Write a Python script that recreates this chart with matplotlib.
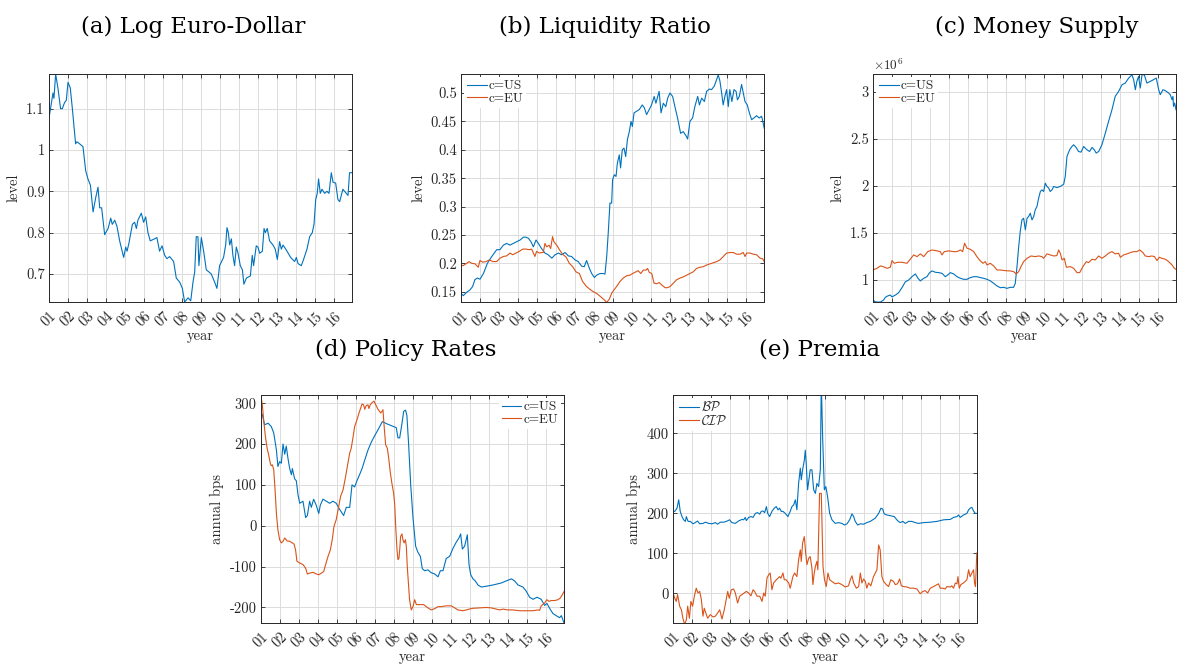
import matplotlib
matplotlib.use('Agg')
import matplotlib.pyplot as plt

plt.rcParams['mathtext.fontset'] = 'cm'
plt.rcParams['axes.unicode_minus'] = False

BLUE = '#0072BD'
ORANGE = '#D95319'
TICK_FONT = 'cmr10'
TITLE_FONT = 'DejaVu Serif'
FS = 10.5

# x values are years since Jan 2001
year_labels = ['%02d' % k for k in range(1, 17)]

# ---------------------------------------------------------------
# (a) Log Euro-Dollar
# ---------------------------------------------------------------
fx_t = [0.00, 0.21, 0.26, 0.35, 0.47, 0.61, 0.70, 0.82, 0.91, 1.00,
        1.12, 1.23, 1.40, 1.47, 1.61, 1.79, 1.93, 2.05, 2.18, 2.32,
        2.46, 2.58, 2.67, 2.77, 2.93, 3.11, 3.25, 3.33, 3.46, 3.58,
        3.72, 3.93, 4.04, 4.11, 4.21, 4.39, 4.51, 4.60, 4.68, 4.86,
        4.98, 5.09, 5.21, 5.33, 5.56, 5.68, 5.82, 5.95, 6.09, 6.21,
        6.35, 6.56, 6.70, 6.88, 7.02, 7.14, 7.32, 7.46, 7.58, 7.67,
        7.75, 7.84, 7.89, 8.02, 8.14, 8.28, 8.54, 8.72, 8.84, 8.98,
        9.19, 9.30, 9.37, 9.44, 9.51, 9.60, 9.68, 9.77, 9.86, 9.95,
        10.07, 10.18, 10.26, 10.39, 10.60, 10.70, 10.77, 10.91, 11.00, 11.09,
        11.23, 11.32, 11.39, 11.49, 11.61, 11.79, 11.91, 12.02, 12.14, 12.23,
        12.32, 12.53, 12.72, 12.93, 13.02, 13.11, 13.28, 13.40, 13.58, 13.72,
        13.86, 13.95, 14.04, 14.12, 14.19, 14.28, 14.37, 14.51, 14.63, 14.74,
        14.86, 14.95, 15.09, 15.21, 15.30, 15.47, 15.65, 15.74, 15.82, 15.95]
fx_level = [1.077, 1.138, 1.125, 1.184, 1.15, 1.10, 1.10, 1.115, 1.12, 1.164,
            1.15, 1.10, 1.015, 1.02, 1.015, 1.008, 0.95, 0.93, 0.915, 0.85,
            0.885, 0.91, 0.86, 0.86, 0.795, 0.81, 0.835, 0.82, 0.83, 0.815,
            0.78, 0.74, 0.765, 0.755, 0.775, 0.82, 0.825, 0.81, 0.83, 0.847,
            0.825, 0.838, 0.80, 0.78, 0.785, 0.788, 0.755, 0.768, 0.745, 0.737,
            0.742, 0.73, 0.69, 0.68, 0.665, 0.632, 0.642, 0.635, 0.68, 0.705,
            0.79, 0.79, 0.72, 0.788, 0.755, 0.71, 0.70, 0.68, 0.665, 0.72,
            0.74, 0.77, 0.812, 0.80, 0.77, 0.785, 0.745, 0.72, 0.765, 0.75,
            0.72, 0.71, 0.675, 0.69, 0.695, 0.745, 0.72, 0.768, 0.765, 0.75,
            0.755, 0.81, 0.80, 0.81, 0.78, 0.77, 0.76, 0.735, 0.778, 0.76,
            0.77, 0.755, 0.74, 0.73, 0.74, 0.725, 0.72, 0.735, 0.76, 0.79,
            0.80, 0.82, 0.88, 0.895, 0.93, 0.895, 0.905, 0.895, 0.90, 0.895,
            0.945, 0.922, 0.92, 0.88, 0.875, 0.905, 0.895, 0.89, 0.945, 0.945]

# ---------------------------------------------------------------
# (b) Liquidity Ratio
# ---------------------------------------------------------------
liq_us_t = [0.00, 0.12, 0.30, 0.47, 0.61, 0.73, 0.86, 1.00, 1.18, 1.39,
            1.62, 1.88, 2.05, 2.23, 2.40, 2.58, 2.75, 2.93, 3.11, 3.28,
            3.42, 3.55, 3.68, 3.81, 3.95, 4.07, 4.24, 4.42, 4.59, 4.78,
            4.95, 5.13, 5.30, 5.48, 5.65, 5.82, 6.00, 6.17, 6.35, 6.49,
            6.61, 6.76, 6.88, 7.02, 7.14, 7.32, 7.49, 7.58, 7.67, 7.75,
            7.84, 7.93, 7.98, 8.07, 8.16, 8.23, 8.33, 8.40, 8.49, 8.58,
            8.67, 8.76, 8.86, 8.95, 9.02, 9.11, 9.25, 9.39, 9.54, 9.65,
            9.77, 9.91, 10.03, 10.17, 10.26, 10.43, 10.53, 10.65, 10.78, 10.88,
            11.00, 11.14, 11.26, 11.40, 11.56, 11.70, 11.84, 11.93, 12.05, 12.19,
            12.31, 12.46, 12.55, 12.67, 12.81, 12.93, 13.07, 13.19, 13.33, 13.46,
            13.54, 13.63, 13.72, 13.80, 13.89, 13.98, 14.07, 14.15, 14.26, 14.37,
            14.48, 14.55, 14.65, 14.77, 14.86, 14.95, 15.07, 15.18, 15.30, 15.42,
            15.56, 15.70, 15.82, 15.87, 15.96]
liq_us = [0.147, 0.143, 0.149, 0.153, 0.159, 0.171, 0.174, 0.172, 0.182, 0.200,
          0.212, 0.224, 0.224, 0.232, 0.235, 0.232, 0.235, 0.238, 0.241, 0.246,
          0.246, 0.244, 0.238, 0.229, 0.241, 0.235, 0.226, 0.218, 0.215, 0.209,
          0.215, 0.218, 0.215, 0.219, 0.213, 0.212, 0.206, 0.203, 0.195, 0.194,
          0.205, 0.191, 0.182, 0.175, 0.179, 0.182, 0.182, 0.181, 0.212, 0.253,
          0.306, 0.306, 0.347, 0.356, 0.353, 0.376, 0.391, 0.368, 0.400, 0.403,
          0.388, 0.418, 0.432, 0.450, 0.441, 0.465, 0.468, 0.471, 0.479, 0.474,
          0.462, 0.471, 0.479, 0.494, 0.482, 0.503, 0.465, 0.482, 0.476, 0.491,
          0.500, 0.494, 0.476, 0.456, 0.429, 0.432, 0.425, 0.419, 0.450, 0.456,
          0.476, 0.494, 0.479, 0.491, 0.485, 0.503, 0.507, 0.506, 0.512, 0.524,
          0.532, 0.521, 0.500, 0.479, 0.494, 0.506, 0.476, 0.506, 0.485, 0.506,
          0.503, 0.488, 0.494, 0.515, 0.500, 0.485, 0.479, 0.465, 0.453, 0.456,
          0.460, 0.456, 0.459, 0.453, 0.438]
liq_eu_t = [0.00, 0.12, 0.30, 0.42, 0.56, 0.74, 0.91, 1.00, 1.14, 1.32,
            1.49, 1.67, 1.88, 2.05, 2.23, 2.40, 2.58, 2.72, 2.89, 3.07,
            3.25, 3.42, 3.60, 3.72, 3.89, 3.98, 4.12, 4.25, 4.33, 4.42,
            4.51, 4.63, 4.72, 4.82, 4.89, 5.04, 5.18, 5.35, 5.53, 5.70,
            5.88, 6.05, 6.23, 6.40, 6.58, 6.79, 6.96, 7.14, 7.32, 7.53,
            7.67, 7.81, 7.93, 8.05, 8.19, 8.37, 8.54, 8.72, 8.89, 9.04,
            9.21, 9.33, 9.46, 9.60, 9.74, 9.82, 9.91, 10.04, 10.16, 10.30,
            10.44, 10.56, 10.74, 10.86, 11.00, 11.18, 11.35, 11.53, 11.70, 11.88,
            12.05, 12.23, 12.40, 12.58, 12.75, 12.93, 13.11, 13.28, 13.46, 13.63,
            13.81, 13.98, 14.16, 14.33, 14.51, 14.68, 14.86, 14.95, 15.04, 15.21,
            15.39, 15.56, 15.74, 15.88, 15.96]
liq_eu = [0.196, 0.196, 0.200, 0.203, 0.200, 0.199, 0.193, 0.205, 0.202, 0.203,
          0.206, 0.203, 0.203, 0.209, 0.212, 0.213, 0.218, 0.215, 0.218, 0.221,
          0.225, 0.225, 0.224, 0.225, 0.212, 0.221, 0.218, 0.219, 0.219, 0.235,
          0.229, 0.232, 0.226, 0.247, 0.238, 0.232, 0.224, 0.216, 0.211, 0.200,
          0.194, 0.185, 0.182, 0.168, 0.160, 0.154, 0.150, 0.147, 0.142, 0.136,
          0.131, 0.137, 0.147, 0.153, 0.159, 0.168, 0.174, 0.178, 0.179, 0.182,
          0.185, 0.187, 0.182, 0.188, 0.188, 0.191, 0.184, 0.182, 0.165, 0.164,
          0.166, 0.162, 0.157, 0.157, 0.159, 0.165, 0.171, 0.174, 0.176, 0.179,
          0.182, 0.185, 0.191, 0.193, 0.194, 0.197, 0.199, 0.201, 0.203, 0.206,
          0.212, 0.218, 0.219, 0.219, 0.216, 0.216, 0.219, 0.212, 0.218, 0.218,
          0.216, 0.215, 0.209, 0.208, 0.203]

# ---------------------------------------------------------------
# (c) Money Supply (millions)
# ---------------------------------------------------------------
ms_us_t = [0.00, 0.09, 0.21, 0.39, 0.56, 0.65, 0.77, 0.91, 1.00, 1.18,
           1.35, 1.53, 1.70, 1.88, 2.05, 2.23, 2.37, 2.49, 2.67, 2.84,
           2.98, 3.11, 3.28, 3.46, 3.63, 3.81, 3.93, 4.07, 4.25, 4.42,
           4.60, 4.77, 4.95, 5.12, 5.30, 5.47, 5.65, 5.82, 6.00, 6.18,
           6.35, 6.53, 6.70, 6.88, 7.05, 7.23, 7.40, 7.49, 7.58, 7.67,
           7.75, 7.84, 7.93, 8.02, 8.11, 8.19, 8.28, 8.37, 8.46, 8.54,
           8.63, 8.72, 8.81, 8.89, 8.98, 9.07, 9.16, 9.25, 9.33, 9.42,
           9.51, 9.68, 9.86, 10.04, 10.12, 10.21, 10.35, 10.47, 10.56, 10.68,
           10.82, 10.95, 11.09, 11.26, 11.40, 11.53, 11.65, 11.75, 11.88, 12.05,
           12.23, 12.40, 12.58, 12.75, 12.93, 13.11, 13.28, 13.46, 13.63, 13.72,
           13.81, 13.89, 13.98, 14.07, 14.16, 14.28, 14.42, 14.60, 14.77, 14.91,
           15.04, 15.12, 15.26, 15.39, 15.56, 15.65, 15.74, 15.79, 15.82, 15.88,
           15.95]
ms_us = [0.794, 0.770, 0.766, 0.766, 0.787, 0.816, 0.830, 0.840, 0.820, 0.840,
         0.865, 0.920, 0.980, 1.000, 1.035, 1.064, 1.018, 0.990, 1.018, 1.035,
         1.078, 1.096, 1.082, 1.078, 1.071, 1.035, 1.053, 1.078, 1.064, 1.035,
         1.018, 1.007, 1.007, 1.025, 1.035, 1.035, 1.025, 1.018, 1.007, 0.990,
         0.965, 0.936, 0.918, 0.922, 0.911, 0.922, 0.922, 0.965, 1.142, 1.355,
         1.514, 1.638, 1.656, 1.532, 1.656, 1.674, 1.709, 1.638, 1.674, 1.745,
         1.780, 1.869, 1.940, 1.957, 1.940, 2.028, 1.993, 1.975, 1.940, 1.957,
         1.993, 1.982, 1.993, 2.018, 2.100, 2.312, 2.383, 2.418, 2.436, 2.411,
         2.365, 2.358, 2.418, 2.383, 2.365, 2.408, 2.383, 2.348, 2.365, 2.436,
         2.560, 2.684, 2.809, 2.950, 3.004, 3.074, 3.092, 3.145, 3.180, 3.128,
         3.021, 3.110, 3.163, 3.039, 3.180, 3.180, 3.092, 3.110, 3.128, 3.145,
         3.021, 2.968, 3.021, 3.011, 2.986, 2.968, 2.915, 2.950, 2.844, 2.879,
         2.809]
ms_eu_t = [0.00, 0.21, 0.39, 0.53, 0.74, 0.91, 1.00, 1.12, 1.30, 1.53,
           1.79, 1.93, 2.14, 2.32, 2.49, 2.67, 2.88, 3.11, 3.37, 3.54,
           3.63, 3.75, 3.98, 4.25, 4.42, 4.60, 4.72, 4.82, 4.95, 5.12,
           5.30, 5.47, 5.65, 5.79, 5.91, 6.00, 6.18, 6.35, 6.53, 6.70,
           6.96, 7.23, 7.40, 7.54, 7.67, 7.79, 7.93, 8.11, 8.32, 8.54,
           8.72, 8.89, 8.98, 9.16, 9.33, 9.51, 9.68, 9.77, 9.86, 9.95,
           10.07, 10.18, 10.39, 10.56, 10.74, 10.88, 11.05, 11.23, 11.35, 11.53,
           11.70, 11.88, 12.05, 12.23, 12.40, 12.58, 12.75, 12.93, 13.02, 13.19,
           13.37, 13.54, 13.72, 13.89, 14.04, 14.21, 14.33, 14.51, 14.68, 14.82,
           14.95, 15.07, 15.21, 15.39, 15.56, 15.74, 15.86, 15.95]
ms_eu = [1.106, 1.124, 1.149, 1.142, 1.124, 1.135, 1.206, 1.177, 1.188, 1.188,
         1.177, 1.213, 1.266, 1.248, 1.277, 1.248, 1.301, 1.319, 1.309, 1.301,
         1.266, 1.301, 1.309, 1.301, 1.301, 1.319, 1.301, 1.390, 1.337, 1.326,
         1.301, 1.248, 1.202, 1.177, 1.195, 1.160, 1.177, 1.149, 1.106, 1.106,
         1.099, 1.096, 1.089, 1.064, 1.089, 1.142, 1.195, 1.230, 1.255, 1.248,
         1.255, 1.248, 1.230, 1.277, 1.266, 1.255, 1.259, 1.319, 1.284, 1.213,
         1.230, 1.135, 1.142, 1.124, 1.078, 1.078, 1.142, 1.195, 1.184, 1.220,
         1.213, 1.255, 1.230, 1.255, 1.284, 1.301, 1.277, 1.284, 1.241, 1.266,
         1.277, 1.291, 1.301, 1.301, 1.319, 1.291, 1.255, 1.248, 1.255, 1.248,
         1.206, 1.241, 1.230, 1.220, 1.195, 1.160, 1.124, 1.113]

# ---------------------------------------------------------------
# (d) Policy Rates (annual bps)
# ---------------------------------------------------------------
pr_us_t = [0.00, 0.07, 0.19, 0.37, 0.54, 0.67, 0.81, 0.89, 0.98, 1.07,
           1.16, 1.25, 1.33, 1.42, 1.51, 1.60, 1.65, 1.77, 1.86, 1.95,
           2.04, 2.21, 2.35, 2.44, 2.56, 2.65, 2.77, 2.91, 3.04, 3.12,
           3.26, 3.44, 3.61, 3.79, 3.96, 4.14, 4.35, 4.49, 4.67, 4.79,
           4.93, 5.05, 5.19, 5.32, 5.49, 5.63, 5.81, 5.98, 6.16, 6.39,
           6.60, 6.86, 7.12, 7.21, 7.30, 7.42, 7.51, 7.61, 7.68, 7.77,
           7.88, 8.00, 8.14, 8.26, 8.39, 8.49, 8.61, 8.79, 8.96, 9.14,
           9.32, 9.44, 9.58, 9.75, 9.93, 10.11, 10.28, 10.42, 10.51, 10.60,
           10.72, 10.86, 10.95, 11.04, 11.16, 11.28, 11.42, 11.60, 11.86,
           12.21, 12.65, 12.91, 13.18, 13.35, 13.53, 13.79, 13.96, 14.14, 14.32,
           14.53, 14.75, 14.93, 15.05, 15.23, 15.37, 15.54, 15.72, 15.81, 15.89,
           15.95]
pr_us = [276, 272, 247, 251, 243, 227, 186, 145, 157, 153,
         200, 175, 195, 165, 140, 125, 140, 115, 110, 75,
         55, 60, 20, 25, 60, 45, 65, 50, 30, 50,
         65, 60, 55, 60, 55, 40, 25, 45, 45, 100,
         95, 110, 125, 140, 165, 185, 205, 220, 235, 255,
         250, 245, 240, 215, 215, 250, 280, 283, 270, 200,
         100, 20, -50, -65, -75, -105, -110, -108, -115, -118,
         -125, -110, -110, -80, -75, -55, -40, -30, -20, -57,
         -50, -22, -95, -120, -130, -135, -145, -150, -148,
         -145, -140, -135, -130, -135, -145, -150, -160, -175, -180,
         -175, -180, -195, -190, -205, -215, -220, -225, -220, -230,
         -238]
pr_eu_t = [0.00, 0.07, 0.14, 0.23, 0.32, 0.40, 0.49, 0.54, 0.60, 0.67,
           0.74, 0.81, 0.89, 0.98, 1.07, 1.16, 1.25, 1.37, 1.51, 1.65,
           1.74, 1.82, 1.89, 2.04, 2.21, 2.35, 2.44, 2.56, 2.74, 2.91,
           3.04, 3.18, 3.30, 3.40, 3.53, 3.65, 3.75, 3.84, 3.96, 4.09,
           4.19, 4.32, 4.44, 4.53, 4.67, 4.75, 4.84, 4.93, 5.05, 5.16,
           5.32, 5.40, 5.46, 5.54, 5.63, 5.68, 5.75, 5.86, 5.95, 6.04,
           6.16, 6.30, 6.37, 6.42, 6.47, 6.56, 6.65, 6.72, 6.81, 6.89,
           6.98, 7.04, 7.09, 7.16, 7.21, 7.26, 7.30, 7.35, 7.42, 7.47,
           7.53, 7.60, 7.65, 7.70, 7.77, 7.82, 7.91, 8.00, 8.09, 8.18,
           8.35, 8.56, 8.79, 8.96, 9.14, 9.32, 9.49, 9.75, 10.02, 10.19,
           10.37, 10.63, 10.81, 10.95, 11.16, 11.51, 11.86, 12.12, 12.30, 12.56,
           12.74, 13.00, 13.26, 13.61, 13.96, 14.32, 14.58, 14.67, 14.75, 14.93,
           15.05, 15.16, 15.28, 15.46, 15.63, 15.75, 15.86, 15.95]
pr_eu = [316, 296, 259, 219, 190, 174, 153, 147, 149, 137,
         88, 31, -10, -34, -42, -38, -30, -37, -38, -42,
         -45, -59, -87, -91, -95, -104, -118, -116, -114, -118,
         -120, -116, -112, -95, -75, -59, -34, -2, 15, 47,
         72, 88, 117, 141, 178, 190, 215, 243, 259, 276,
         298, 296, 285, 294, 296, 287, 296, 302, 305, 296,
         285, 276, 280, 284, 251, 198, 190, 166, 129, 104,
         80, 51, -2, -59, -83, -80, -59, -26, -20, -34,
         -42, -34, -51, -100, -148, -181, -206, -198, -181, -193,
         -193, -193, -201, -206, -203, -198, -198, -196, -196, -201,
         -206, -208, -206, -204, -202, -201, -200, -201, -203, -206,
         -204, -206, -206, -208, -208, -208, -206, -207, -196, -189,
         -181, -185, -183, -183, -181, -177, -169, -161]

# ---------------------------------------------------------------
# (e) Premia (annual bps)
# ---------------------------------------------------------------
bp_t = [0.00, 0.09, 0.21, 0.30, 0.38, 0.47, 0.56, 0.65, 0.70, 0.79,
        0.91, 1.05, 1.17, 1.29, 1.40, 1.57, 1.70, 1.87, 2.05, 2.22,
        2.34, 2.48, 2.66, 2.80, 2.97, 3.09, 3.27, 3.44, 3.62, 3.71,
        3.79, 3.85, 3.97, 4.09, 4.20, 4.32, 4.44, 4.55, 4.63, 4.72,
        4.81, 4.90, 4.97, 5.07, 5.19, 5.31, 5.42, 5.51, 5.59, 5.68,
        5.77, 5.89, 6.03, 6.15, 6.24, 6.33, 6.42, 6.50, 6.59, 6.68,
        6.73, 6.80, 6.89, 6.94, 6.99, 7.06, 7.13, 7.20, 7.29, 7.38,
        7.47, 7.55, 7.64, 7.73, 7.78, 7.85, 7.94, 8.02, 8.11, 8.22,
        8.34, 8.51, 8.69, 8.86, 9.00, 9.13, 9.27, 9.39, 9.48, 9.56,
        9.69, 9.83, 10.00, 10.17, 10.35, 10.61, 10.79, 10.91, 11.00, 11.08,
        11.22, 11.43, 11.61, 11.78, 11.92, 12.06, 12.19, 12.36, 12.53, 12.71,
        12.88, 13.15, 13.50, 13.85, 14.20, 14.55, 14.72, 14.90, 14.98, 15.07,
        15.24, 15.42, 15.51, 15.59, 15.68, 15.77, 15.86, 15.94]
bp = [205, 205, 213, 234, 205, 192, 184, 180, 192, 180,
      180, 174, 177, 181, 174, 175, 178, 175, 174, 177,
      173, 178, 178, 180, 184, 177, 175, 181, 185, 184,
      190, 182, 190, 192, 190, 200, 202, 198, 205, 206,
      202, 217, 200, 192, 205, 213, 217, 209, 213, 205,
      205, 200, 192, 205, 217, 221, 234, 209, 275, 313,
      284, 309, 333, 358, 325, 259, 284, 309, 309, 259,
      250, 275, 267, 309, 530, 392, 259, 267, 242, 200,
      184, 175, 177, 175, 171, 174, 184, 199, 192, 180,
      171, 174, 173, 177, 180, 188, 200, 213, 211, 199,
      196, 194, 192, 182, 177, 180, 175, 180, 180, 177,
      175, 177, 178, 180, 184, 185, 190, 192, 196, 190,
      196, 200, 209, 213, 215, 206, 200, 200]
cip_t = [0.00, 0.09, 0.17, 0.24, 0.35, 0.44, 0.52, 0.61, 0.70, 0.77,
         0.86, 0.94, 1.03, 1.12, 1.22, 1.31, 1.40, 1.49, 1.57, 1.64,
         1.75, 1.82, 1.96, 2.10, 2.22, 2.34, 2.45, 2.57, 2.69, 2.80,
         2.87, 2.95, 3.06, 3.18, 3.27, 3.39, 3.50, 3.62, 3.74, 3.85,
         3.97, 4.09, 4.20, 4.28, 4.41, 4.55, 4.67, 4.76, 4.84, 4.93,
         5.02, 5.10, 5.19, 5.28, 5.42, 5.51, 5.59, 5.66, 5.77, 5.84,
         5.94, 6.07, 6.15, 6.29, 6.38, 6.50, 6.59, 6.68, 6.73, 6.80,
         6.89, 6.96, 7.03, 7.12, 7.20, 7.29, 7.34, 7.41, 7.47, 7.55,
         7.60, 7.69, 7.78, 7.87, 7.95, 8.04, 8.13, 8.22, 8.34, 8.51,
         8.69, 8.86, 9.04, 9.21, 9.30, 9.39, 9.48, 9.62, 9.74, 9.83,
         9.91, 10.00, 10.09, 10.17, 10.26, 10.38, 10.52, 10.70, 10.79, 10.87,
         10.96, 11.05, 11.19, 11.31, 11.43, 11.57, 11.66, 11.78, 11.89, 11.98,
         12.10, 12.27, 12.45, 12.62, 12.80, 12.97, 13.11, 13.23, 13.36, 13.50,
         13.67, 13.85, 13.93, 14.02, 14.16, 14.28, 14.37, 14.55, 14.63, 14.72,
         14.81, 14.90, 14.95, 15.02, 15.10, 15.24, 15.33, 15.42, 15.51, 15.59,
         15.68, 15.77, 15.82, 15.87, 15.94]
cip = [1, -12, -20, -3, -32, -41, -62, -78, -66, -32,
       -62, -20, -32, -7, 13, 1, 5, -16, -57, -37,
       -53, -62, -53, -59, -57, -49, -41, -64, -41, -12,
       5, -12, 9, 11, 1, -24, -7, -3, 1, 5,
       1, -6, 9, 5, -7, -7, -20, 1, -7, 38,
       47, 51, 9, 26, 34, 38, 42, 38, 51, 34,
       34, 26, 13, 42, 51, 42, 84, 109, 80, 126,
       142, 101, 72, 88, 92, 63, 22, 51, 67, 80,
       59, 250, 250, 67, 34, 17, 51, 34, 30, 24,
       26, 22, 16, 19, 34, 44, 26, 13, 17, 51,
       26, 36, 30, 13, 26, 19, 42, 59, 121, 109,
       42, 30, 22, 17, 34, 30, 22, 24, 36, 19,
       17, 16, 13, 13, 11, -1, 5, 7, 1, 13,
       17, 22, 24, 13, 13, 11, 17, 16, 19, 13,
       26, 24, 42, 13, 22, 26, 30, 34, 59, 42,
       51, 59, 26, 17, 101]

XMAX = 15.95
W, H = 1180, 667


def px_axes(left, top, right, bottom):
    return [left / W, 1 - bottom / H, (right - left) / W, (bottom - top) / H]


def style(ax, yticks, ylabels, ylim, ylabel):
    ax.set_xlim(0, XMAX)
    ax.set_ylim(*ylim)
    ax.set_xticks(range(16))
    ax.set_xticklabels(year_labels, rotation=45, ha='center', va='top',
                       family=TICK_FONT, fontsize=FS, color='#262626')
    ax.set_yticks(yticks)
    ax.set_yticklabels(ylabels, family=TICK_FONT, fontsize=FS, color='#262626')
    ax.tick_params(direction='in', length=3, width=0.6, top=True, right=True,
                   colors='#262626', pad=3)
    ax.tick_params(axis='x', pad=5)
    ax.grid(True, color='#dcdcdc', linewidth=0.7)
    ax.set_axisbelow(True)
    for s in ax.spines.values():
        s.set_color('#262626')
        s.set_linewidth(0.7)
    ax.set_xlabel('year', family=TICK_FONT, fontsize=FS, color='#262626', labelpad=0)
    ax.set_ylabel(ylabel, family=TICK_FONT, fontsize=FS, color='#262626', labelpad=4)


def legend(ax, loc, labels):
    leg = ax.legend(labels, loc=loc, handlelength=1.5, handletextpad=0.15,
                    borderaxespad=0.25, borderpad=0.2, labelspacing=0.05,
                    frameon=True, fancybox=False, framealpha=1,
                    prop={'family': TICK_FONT, 'size': 9.5})
    leg.get_frame().set_edgecolor('white')
    leg.get_frame().set_linewidth(0)
    for t in leg.get_texts():
        t.set_color('#262626')


fig = plt.figure(figsize=(11.8, 6.67), dpi=100)

ax_a = fig.add_axes(px_axes(49, 74, 352, 302))
ax_b = fig.add_axes(px_axes(461, 74, 764, 302))
ax_c = fig.add_axes(px_axes(873, 74, 1176, 302))
ax_d = fig.add_axes(px_axes(261, 395, 564, 623))
ax_e = fig.add_axes(px_axes(673, 395, 977, 623))

lw = 0.8

ax_a.plot(fx_t, fx_level, color=BLUE, lw=lw)
style(ax_a, [0.7, 0.8, 0.9, 1.0, 1.1], ['0.7', '0.8', '0.9', '1', '1.1'],
      (0.632, 1.184), 'level')

ax_b.plot(liq_us_t, liq_us, color=BLUE, lw=lw)
ax_b.plot(liq_eu_t, liq_eu, color=ORANGE, lw=lw)
style(ax_b, [0.15, 0.2, 0.25, 0.3, 0.35, 0.4, 0.45, 0.5],
      ['0.15', '0.2', '0.25', '0.3', '0.35', '0.4', '0.45', '0.5'],
      (0.1318, 0.5335), 'level')
legend(ax_b, 'upper left', ['c=US', 'c=EU'])

ax_c.plot(ms_us_t, ms_us, color=BLUE, lw=lw)
ax_c.plot(ms_eu_t, ms_eu, color=ORANGE, lw=lw)
style(ax_c, [1, 1.5, 2, 2.5, 3], ['1', '1.5', '2', '2.5', '3'],
      (0.766, 3.188), 'level')
legend(ax_c, 'upper left', ['c=US', 'c=EU'])
ax_c.text(0.0, 1.003, r'$\times10^{6}$', transform=ax_c.transAxes,
          ha='left', va='bottom', fontsize=9.5, color='#262626')

ax_d.plot(pr_us_t, pr_us, color=BLUE, lw=lw)
ax_d.plot(pr_eu_t, pr_eu, color=ORANGE, lw=lw)
style(ax_d, [-200, -100, 0, 100, 200, 300],
      ['-200', '-100', '0', '100', '200', '300'], (-238, 320), 'annual bps')
legend(ax_d, 'upper right', ['c=US', 'c=EU'])

ax_e.plot(bp_t, bp, color=BLUE, lw=lw)
ax_e.plot(cip_t, cip, color=ORANGE, lw=lw)
style(ax_e, [0, 100, 200, 300, 400], ['0', '100', '200', '300', '400'],
      (-74, 496), 'annual bps')
legend(ax_e, 'upper left', [r'$\mathcal{BP}$', r'$\mathcal{CIP}$'])

titles = [('(a) Log Euro-Dollar', 193, 27), ('(b) Liquidity Ratio', 605, 27),
          ('(c) Money Supply', 1037, 27), ('(d) Policy Rates', 406, 350),
          ('(e) Premia', 820, 350)]
for txt, cx, cy in titles:
    fig.text(cx / W, 1 - cy / H, txt, ha='center', va='center',
             family=TITLE_FONT, fontsize=16.5, color='black')

fig.savefig('out.png', dpi=100)
